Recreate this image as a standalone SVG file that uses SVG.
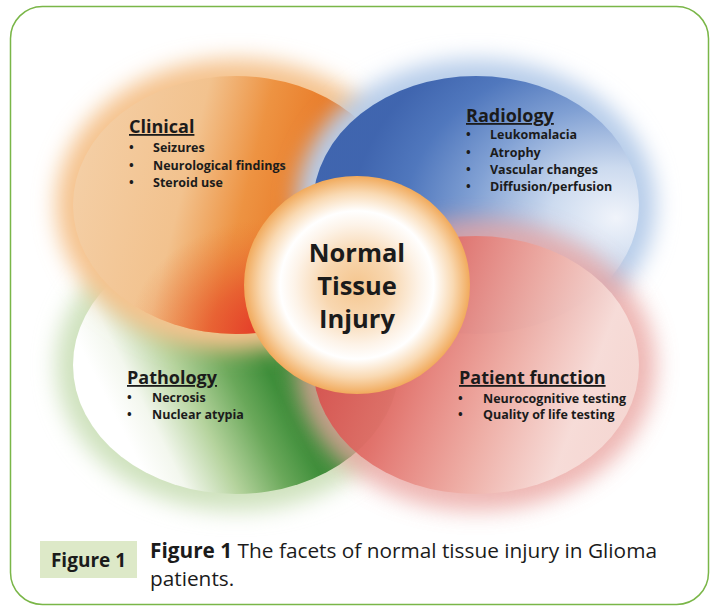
<svg xmlns="http://www.w3.org/2000/svg" width="717" height="607" viewBox="0 0 717 607">
<style>
text{font-family:"Open Sans","Liberation Sans",sans-serif;fill:#1b1b1b}
.t{font-size:18px;font-weight:700;text-decoration:underline}
.i{font-size:12.5px;font-weight:700}
.c{font-size:25.5px;font-weight:700;text-anchor:middle}
.cap{font-size:20.8px}
</style>
<defs>
<filter id="blur" x="-30%" y="-30%" width="160%" height="160%"><feGaussianBlur stdDeviation="11"/></filter>
<linearGradient id="gOrange" x1="0" y1="0.4" x2="1" y2="0.6">
<stop offset="0" stop-color="#f4cfa6"/><stop offset="0.33" stop-color="#f2c28e"/><stop offset="0.52" stop-color="#ed913f"/><stop offset="0.68" stop-color="#e97b27"/><stop offset="1" stop-color="#e8721f"/>
</linearGradient>
<radialGradient id="gRed2" cx="0.62" cy="1" r="0.45">
<stop offset="0" stop-color="#e3302a" stop-opacity="1"/><stop offset="0.45" stop-color="#e5442a" stop-opacity="0.6"/><stop offset="1" stop-color="#e8722a" stop-opacity="0"/>
</radialGradient>
<radialGradient id="gBlue" cx="0.9" cy="0.55" r="0.78" fx="0.93" fy="0.55">
<stop offset="0" stop-color="#f2f5fb"/><stop offset="0.25" stop-color="#cddbef"/><stop offset="0.55" stop-color="#7f9fd3"/><stop offset="0.8" stop-color="#4d75bc"/><stop offset="1" stop-color="#3c62ad"/>
</radialGradient>
<linearGradient id="gRed" x1="0" y1="0.3" x2="1" y2="0.6">
<stop offset="0" stop-color="#d63e3e"/><stop offset="0.3" stop-color="#e06660"/><stop offset="0.6" stop-color="#eeaca3"/><stop offset="0.85" stop-color="#f8e3df"/><stop offset="1" stop-color="#f6dcd7"/>
</linearGradient>
<linearGradient id="gGreen" x1="0.15" y1="0.75" x2="0.9" y2="0.45">
<stop offset="0" stop-color="#ffffff"/><stop offset="0.12" stop-color="#f3f7ee"/><stop offset="0.3" stop-color="#b5d39d"/><stop offset="0.48" stop-color="#6aa85a"/><stop offset="0.62" stop-color="#3e8e3a"/><stop offset="1" stop-color="#3a8a38"/>
</linearGradient>
<radialGradient id="gCenter" cx="0.5" cy="0.5" r="0.5">
<stop offset="0" stop-color="#f5c68f"/><stop offset="0.3" stop-color="#f8d7b0"/><stop offset="0.55" stop-color="#fdf3e8"/><stop offset="0.68" stop-color="#ffffff"/><stop offset="0.85" stop-color="#f9d9b2"/><stop offset="1" stop-color="#f1aa5c"/>
</radialGradient>
</defs>
<rect x="10.5" y="6.5" width="698" height="598" rx="32" fill="#ffffff" stroke="#7ab648" stroke-width="1.5"/>

<g id="pathology">
<ellipse cx="236" cy="365" rx="180" ry="146" fill="#cfe2bd" filter="url(#blur)"/>
<ellipse cx="236" cy="365" rx="163" ry="129" fill="url(#gGreen)"/>
<text class="t" x="127" y="384">Pathology</text>
<text class="i" x="127" y="402">•</text><text class="i" x="152" y="402">Necrosis</text>
<text class="i" x="127" y="419">•</text><text class="i" x="152" y="419">Nuclear atypia</text>
</g>

<g id="clinical">
<ellipse cx="236" cy="205" rx="180" ry="146" fill="#f5c38e" filter="url(#blur)"/>
<ellipse cx="236" cy="205" rx="163" ry="129" fill="url(#gOrange)" opacity="0.96"/>
<ellipse cx="236" cy="205" rx="163" ry="129" fill="url(#gRed2)"/>
<text class="t" x="129" y="133">Clinical</text>
<text class="i" x="129" y="152">•</text><text class="i" x="153" y="152">Seizures</text>
<text class="i" x="129" y="170">•</text><text class="i" x="153" y="170">Neurological findings</text>
<text class="i" x="129" y="187">•</text><text class="i" x="153" y="187">Steroid use</text>
</g>

<g id="radiology">
<ellipse cx="476" cy="205" rx="180" ry="146" fill="#b7cdea" filter="url(#blur)"/>
<ellipse cx="476" cy="205" rx="163" ry="129" fill="url(#gBlue)" opacity="0.97"/>
</g>

<g id="patient-function">
<ellipse cx="476" cy="365" rx="180" ry="146" fill="#eaa4a0" filter="url(#blur)" opacity="0.8"/>
<ellipse cx="476" cy="365" rx="163" ry="129" fill="url(#gRed)" opacity="0.84"/>
<text class="t" x="459" y="384">Patient function</text>
<text class="i" x="458" y="403">•</text><text class="i" x="483" y="403">Neurocognitive testing</text>
<text class="i" x="458" y="419">•</text><text class="i" x="483" y="419">Quality of life testing</text>
</g>

<g id="radiology-text">
<text class="t" x="466" y="122">Radiology</text>
<text class="i" x="466" y="139">•</text><text class="i" x="490" y="139">Leukomalacia</text>
<text class="i" x="466" y="157">•</text><text class="i" x="490" y="157">Atrophy</text>
<text class="i" x="466" y="174">•</text><text class="i" x="490" y="174">Vascular changes</text>
<text class="i" x="466" y="191">•</text><text class="i" x="490" y="191">Diffusion/perfusion</text>
</g>

<g id="center">
<ellipse cx="357" cy="285" rx="113" ry="109" fill="url(#gCenter)"/>
<text class="c" x="357" y="262">Normal</text>
<text class="c" x="357" y="295">Tissue</text>
<text class="c" x="357" y="328">Injury</text>
</g>

<g id="caption">
<rect x="40" y="541" width="97" height="37" fill="#dde9c8"/>
<text x="88.5" y="567" text-anchor="middle" style="font-size:19px;font-weight:700">Figure 1</text>
<text class="cap" x="150" y="558"><tspan font-weight="700">Figure 1</tspan> The facets of normal tissue injury in Glioma</text>
<text class="cap" x="150" y="586">patients.</text>
</g>
</svg>
